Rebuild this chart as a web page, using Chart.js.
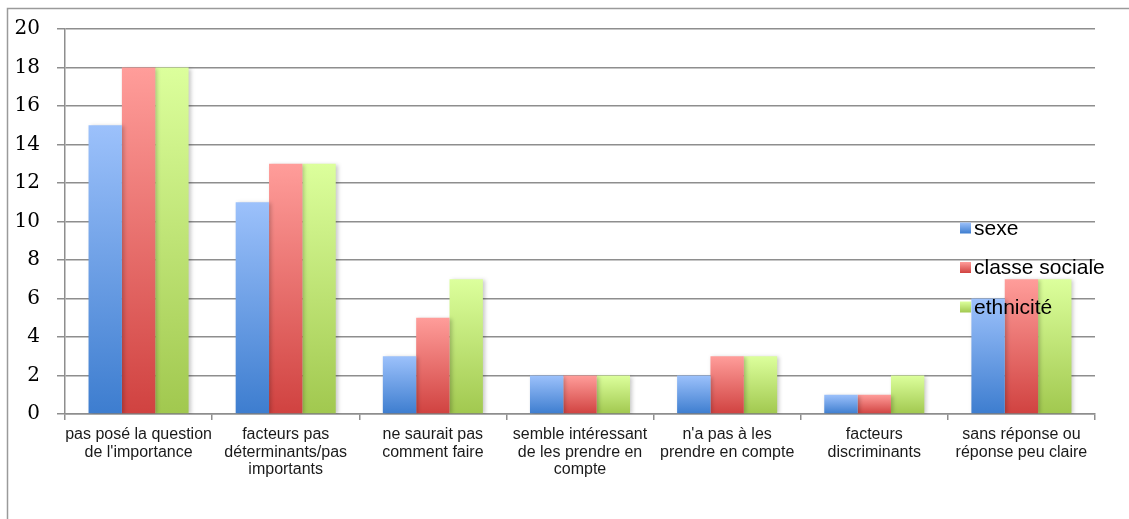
<!DOCTYPE html>
<html>
<head>
<meta charset="utf-8">
<script src="https://cdn.jsdelivr.net/npm/chart.js@4.4.0/dist/chart.umd.min.js"></script>
<style>
html,body{margin:0;padding:0;background:#fff;overflow:hidden;}
#wrap{position:absolute;left:0;top:0;width:1129px;height:519px;}
</style>
</head>
<body>
<div id="wrap"><canvas id="c" width="1129" height="519"></canvas></div>
<script>
const categories = [
  ["pas posé la question", "de l'importance"],
  ["facteurs pas", "déterminants/pas", "importants"],
  ["ne saurait pas", "comment faire"],
  ["semble intéressant", "de les prendre en", "compte"],
  ["n'a pas à les", "prendre en compte"],
  ["facteurs", "discriminants"],
  ["sans réponse ou", "réponse peu claire"]
];
const seriesNames = ["sexe", "classe sociale", "ethnicité"];
const sexe = [15, 11, 3, 2, 2, 1, 6];
const classeSociale = [18, 13, 5, 2, 3, 1, 7];
const ethnicite = [18, 13, 7, 2, 3, 2, 7];
const yTicks = [0, 2, 4, 6, 8, 10, 12, 14, 16, 18, 20];

const gradStops = [
  ["#9cc1fb", "#3d7dcf"],
  ["#ff9d9a", "#d04240"],
  ["#dcff9c", "#a1c84f"]
];
const solid = ["#4f81bd", "#c0504d", "#9bbb59"];

function barGradient(di) {
  return function(ctx) {
    const chart = ctx.chart;
    const ys = chart.scales && chart.scales.y;
    if (!ys || ctx.type !== 'data' || ys.bottom === undefined) return solid[di];
    const v = ctx.raw;
    const top = ys.getPixelForValue(v), bot = ys.getPixelForValue(0);
    if (!isFinite(top) || !isFinite(bot) || bot <= top) return solid[di];
    const g = chart.ctx.createLinearGradient(0, top, 0, bot);
    g.addColorStop(0, gradStops[di][0]);
    g.addColorStop(1, gradStops[di][1]);
    return g;
  };
}

const shadowPlugin = {
  id: 'barShadow',
  beforeDatasetsDraw(chart) {
    const ctx = chart.ctx;
    ctx.save();
    ctx.shadowColor = 'rgba(0,0,0,0.22)';
    ctx.shadowBlur = 4;
    ctx.shadowOffsetX = 2;
    ctx.shadowOffsetY = 1;
  },
  afterDatasetsDraw(chart) {
    chart.ctx.restore();
  }
};

const framePlugin = {
  id: 'frame',
  beforeDraw(chart) {
    const ctx = chart.ctx;
    ctx.save();
    ctx.fillStyle = '#fff';
    ctx.fillRect(0, 0, chart.width, chart.height);
    ctx.strokeStyle = '#9a9a9a';
    ctx.lineWidth = 1.5;
    ctx.beginPath();
    ctx.moveTo(7.5, chart.height + 2);
    ctx.lineTo(7.5, 8.5);
    ctx.lineTo(chart.width + 2, 8.5);
    ctx.stroke();
    ctx.restore();
  }
};

const legendPlugin = {
  id: 'customLegend',
  afterDraw(chart) {
    const ctx = chart.ctx;
    ctx.save();
    const x = 960, ys = [228, 267.5, 307];
    chart.data.datasets.forEach((ds, i) => {
      const y = ys[i];
      const g = ctx.createLinearGradient(0, y - 5.5, 0, y + 5.5);
      g.addColorStop(0, gradStops[i][0]);
      g.addColorStop(1, gradStops[i][1]);
      ctx.fillStyle = g;
      ctx.fillRect(x, y - 5.5, 11, 11);
      ctx.fillStyle = '#000';
      ctx.font = '21px "Liberation Sans", Arial, sans-serif';
      ctx.textBaseline = 'middle';
      ctx.textAlign = 'left';
      ctx.fillText(ds.label, x + 14, y + 1);
    });
    ctx.restore();
  }
};

new Chart(document.getElementById('c'), {
  type: 'bar',
  data: {
    labels: categories,
    datasets: [
      { label: seriesNames[0], data: sexe, backgroundColor: barGradient(0) },
      { label: seriesNames[1], data: classeSociale, backgroundColor: barGradient(1) },
      { label: seriesNames[2], data: ethnicite, backgroundColor: barGradient(2) }
    ]
  },
  options: {
    responsive: false,
    animation: false,
    devicePixelRatio: 1,
    layout: { padding: { left: 7, right: 34, top: 25, bottom: 0 } },
    datasets: { bar: { categoryPercentage: 0.68, barPercentage: 1.0, borderWidth: 0 } },
    plugins: {
      legend: { display: false },
      tooltip: { enabled: false }
    },
    scales: {
      x: {
        grid: {
          display: true, drawOnChartArea: false, drawTicks: true,
          tickLength: 6, color: '#8e8e8e', lineWidth: 1.5, offset: true
        },
        border: { display: true, color: '#8e8e8e', width: 1.5 },
        ticks: {
          color: '#1a1a1a', maxRotation: 0, autoSkip: false, padding: 6,
          font: { family: '"Liberation Sans", Arial, sans-serif', size: 16, lineHeight: 1.1 }
        },
        afterFit(s) { s.height = 105; }
      },
      y: {
        min: 0, max: 20,
        afterBuildTicks(s) { s.ticks = yTicks.map(v => ({ value: v })); },
        grid: { color: '#8e8e8e', lineWidth: 1.5, tickLength: 8 },
        border: { display: true, color: '#8e8e8e', width: 1.5 },
        ticks: {
          color: '#000', padding: 17,
          font: { family: '"DejaVu Serif", serif', size: 20 }
        },
        afterFit(s) { s.width = 58; }
      }
    }
  },
  plugins: [framePlugin, shadowPlugin, legendPlugin]
});
</script>
</body>
</html>
